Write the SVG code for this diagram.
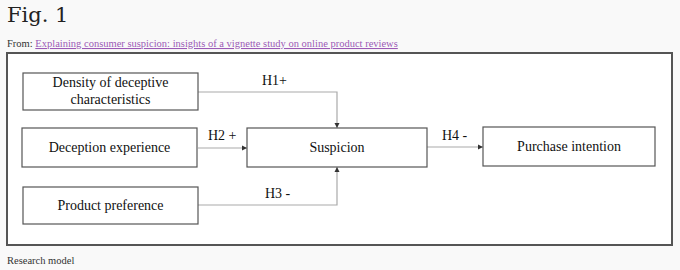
<svg xmlns="http://www.w3.org/2000/svg" width="680" height="270" viewBox="0 0 680 270">
<defs>
<marker id="ah" markerWidth="6" markerHeight="6" refX="5" refY="3" orient="auto" markerUnits="userSpaceOnUse">
<path d="M0,0.5 L5,3 L0,5.5 Z" fill="#333"/>
</marker>
<style>
.box{fill:#fff;stroke:#555;stroke-width:1.2}
.t{font-family:"Liberation Serif","Times New Roman",serif;font-size:14px;fill:#111;text-anchor:middle}
.lbl{font-family:"Liberation Serif","Times New Roman",serif;font-size:14px;fill:#111}
.c{fill:none;stroke:#aaa;stroke-width:1.2;marker-end:url(#ah)}
</style>
</defs>
<rect x="0" y="0" width="680" height="270" fill="#f9f9f9"/>
<text x="7" y="22" font-family="Georgia,'DejaVu Serif','Liberation Serif',serif" font-size="21" fill="#222">Fig. 1</text>
<text x="7" y="47" font-family="Georgia,'Liberation Serif',serif" font-size="10.5" fill="#333">From: <tspan fill="#9b59b6" text-decoration="underline">Explaining consumer suspicion: insights of a vignette study on online product reviews</tspan></text>
<rect x="7" y="53" width="665" height="192" fill="#fff" stroke="#555" stroke-width="2"/>
<g id="connectors">
<path class="c" d="M198,92 H337 V128"/>
<path class="c" d="M198,148 H247"/>
<path class="c" d="M198,205 H337 V167"/>
<path class="c" d="M427,147 H483"/>
<text class="lbl" x="262" y="85">H1+</text>
<text class="lbl" x="208" y="140">H2 +</text>
<text class="lbl" x="265" y="198">H3 -</text>
<text class="lbl" x="442" y="140">H4 -</text>
</g>
<g id="density">
<rect class="box" x="23" y="73" width="175" height="37"/>
<text class="t" x="110.5" y="87">Density of deceptive</text>
<text class="t" x="110.5" y="104">characteristics</text>
</g>
<g id="experience">
<rect class="box" x="22" y="128" width="175" height="39"/>
<text class="t" x="109.5" y="152">Deception experience</text>
</g>
<g id="preference">
<rect class="box" x="23" y="187" width="175" height="37"/>
<text class="t" x="110.5" y="210">Product  preference</text>
</g>
<g id="suspicion">
<rect class="box" x="247" y="128" width="180" height="39"/>
<text class="t" x="337" y="152">Suspicion</text>
</g>
<g id="purchase">
<rect class="box" x="483" y="127" width="172" height="39"/>
<text class="t" x="569" y="151">Purchase intention</text>
</g>
<text x="7" y="264" font-family="Georgia,'Liberation Serif',serif" font-size="10.5" fill="#333">Research model</text>
</svg>
